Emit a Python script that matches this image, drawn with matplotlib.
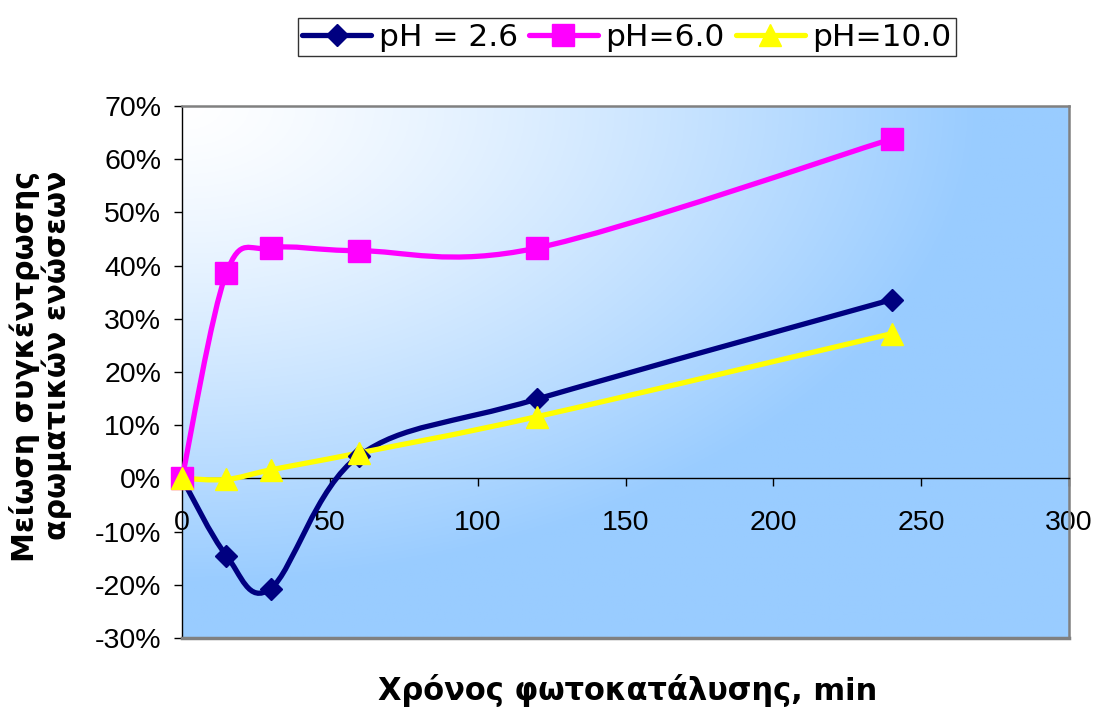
import numpy as np
import matplotlib
matplotlib.use('Agg')
import matplotlib.pyplot as plt
from matplotlib.path import Path
from matplotlib.patches import PathPatch
from matplotlib.lines import Line2D
from matplotlib.ticker import PercentFormatter, MultipleLocator

plt.rcParams['axes.unicode_minus'] = False

# data
time_min = [0, 15, 30, 60, 120, 240]
ph26 = [0.0, -14.5, -20.7, 4.3, 14.9, 33.6]
ph60 = [0.0, 38.6, 43.3, 42.8, 43.3, 63.8]
ph100 = [0.0, -0.2, 1.6, 4.8, 11.6, 27.2]

series_names = ['pH = 2.6', 'pH=6.0', 'pH=10.0']
series_colors = ['#000080', '#FF00FF', '#FFFF00']
series_markers = ['D', 's', '^']
x_ticks = [0, 50, 100, 150, 200, 250, 300]


def smooth_path(x, y):
    """Excel-like smoothed line: cubic bezier through the points."""
    pts = np.column_stack([x, y]).astype(float)
    n = len(pts)
    verts = [pts[0]]
    codes = [Path.MOVETO]
    for i in range(n - 1):
        p0 = pts[i - 1] if i > 0 else pts[i]
        p1 = pts[i]
        p2 = pts[i + 1]
        p3 = pts[i + 2] if i + 2 < n else pts[i + 1]
        c1 = p1 + (p2 - p0) / 6.0
        c2 = p2 - (p3 - p1) / 6.0
        verts += [c1, c2, p2]
        codes += [Path.CURVE4] * 3
    return Path(verts, codes)


fig = plt.figure(figsize=(10.93, 7.07), dpi=100)
ax = fig.add_axes([182 / 1093, 1 - 638 / 707, (1069 - 182) / 1093, (638 - 106) / 707])

# background gradient: white in the upper-left corner to light blue
gx, gy = np.meshgrid(np.linspace(0, 1, 400), np.linspace(0, 1, 300))
r = np.sqrt(gx ** 2 + gy ** 2) / 0.9
t = np.clip(r, 0, 1) ** 1.3
c0 = np.array([1.0, 1.0, 1.0])
c1 = np.array([0x99, 0xCC, 0xFF]) / 255.0
img = c0[None, None, :] * (1 - t[..., None]) + c1[None, None, :] * t[..., None]
ax.imshow(img, extent=[0, 300, -30, 70], aspect='auto', zorder=0, origin='upper')

sizes = [11.7, 16.5, 16.5]
for vals, col, mk, ms in zip([ph26, ph60, ph100], series_colors, series_markers, sizes):
    ax.add_patch(PathPatch(smooth_path(time_min, vals), facecolor='none',
                           edgecolor=col, lw=3.8, zorder=3, capstyle='round'))
    ax.plot(time_min, vals, linestyle='none', marker=mk, markersize=ms,
            color=col, markeredgecolor=col, zorder=4, clip_on=False)

ax.set_xlim(0, 300)
ax.set_ylim(-30, 70)
ax.yaxis.set_major_locator(MultipleLocator(10))
ax.yaxis.set_major_formatter(PercentFormatter(xmax=100, decimals=0))
ax.set_xticks(x_ticks)

for s in ['top', 'right']:
    ax.spines[s].set_color('#808080')
    ax.spines[s].set_linewidth(1.8)
ax.spines['left'].set_color('black')
ax.spines['left'].set_linewidth(1.0)
ax.spines['bottom'].set_position(('data', 0))
ax.spines['bottom'].set_color('black')
ax.spines['bottom'].set_linewidth(1.0)
ax.axhline(-30, color='#808080', lw=2.5, zorder=5, clip_on=False)

ax.tick_params(axis='y', direction='out', length=6, width=1, pad=9,
               labelsize=20.5)
ax.tick_params(axis='x', direction='out', length=6, width=1, pad=17,
               labelsize=20.5)
for lab in ax.get_xticklabels() + ax.get_yticklabels():
    lab.set_fontfamily('Liberation Sans')

fig.text(0.037, 0.482, 'Μείωση συγκέντρωσης\nαρωματικών ενώσεων', rotation=90,
         ha='center', va='center', multialignment='right',
         fontsize=21.6, fontweight='bold', family='DejaVu Sans', linespacing=1.05)
fig.text(0.5746, 0.0099, 'Χρόνος φωτοκατάλυσης, min', ha='center', va='baseline',
         fontsize=22, fontweight='bold', family='DejaVu Sans')

handles = [Line2D([], [], color=c, lw=3.8, marker=m, markersize=s,
                  markeredgecolor=c, solid_capstyle='round')
           for c, m, s in zip(series_colors, series_markers, sizes)]
leg = fig.legend(handles, series_names, loc='center', ncol=3,
                 bbox_to_anchor=(627 / 1093, 1 - 37 / 707),
                 fontsize=22.5, frameon=True, fancybox=False, handlelength=2.2,
                 handletextpad=0.25, columnspacing=0.35, borderpad=0.15,
                 borderaxespad=0)
leg.get_frame().set_edgecolor('black')
leg.get_frame().set_linewidth(1.0)

fig.savefig('out.png', dpi=100)
